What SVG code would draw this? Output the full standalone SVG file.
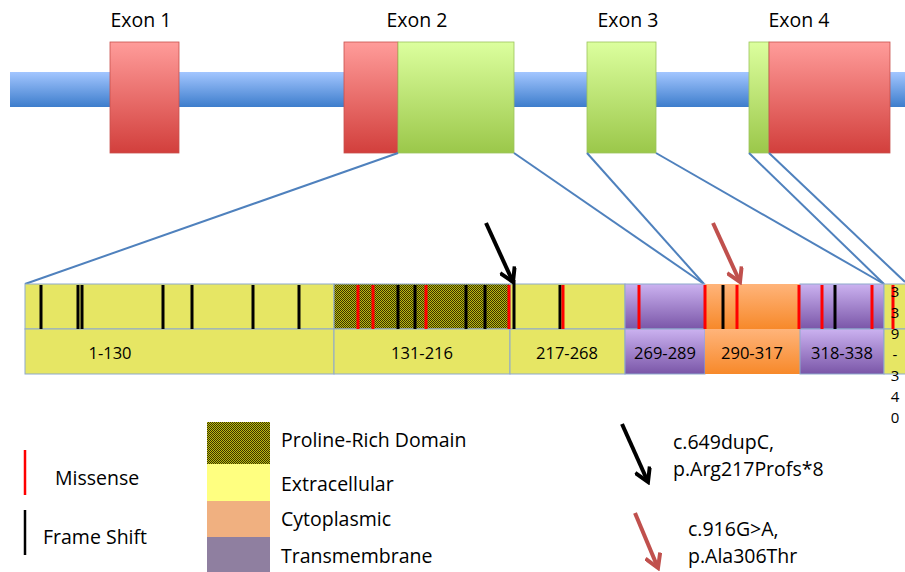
<svg xmlns="http://www.w3.org/2000/svg" width="905" height="572" viewBox="0 0 905 572">
<defs>
<linearGradient id="gBlue" x1="0" y1="0" x2="0" y2="1"><stop offset="0" stop-color="#a3c6ff"/><stop offset="1" stop-color="#3d7dcc"/></linearGradient>
<linearGradient id="gRed" x1="0" y1="0" x2="0" y2="1"><stop offset="0" stop-color="#ff9c9a"/><stop offset="1" stop-color="#d23f3c"/></linearGradient>
<linearGradient id="gGreen" x1="0" y1="0" x2="0" y2="1"><stop offset="0" stop-color="#dcff9e"/><stop offset="1" stop-color="#9bc74a"/></linearGradient>
<linearGradient id="gPurple" x1="0" y1="0" x2="0" y2="1"><stop offset="0" stop-color="#cbb2f0"/><stop offset="1" stop-color="#7a56a8"/></linearGradient>
<linearGradient id="gOrange" x1="0" y1="0" x2="0" y2="1"><stop offset="0" stop-color="#ffb47a"/><stop offset="1" stop-color="#f7892a"/></linearGradient>
<pattern id="pPro" width="2" height="2" patternUnits="userSpaceOnUse"><rect width="2" height="2" fill="#bcba10"/><rect width="1" height="1" fill="#363400"/><rect x="1" y="1" width="1" height="1" fill="#363400"/></pattern>
<marker id="mBlack" viewBox="0 0 18 18" refX="15" refY="9" markerWidth="18" markerHeight="18" markerUnits="userSpaceOnUse" orient="auto"><path d="M1.5,1 L15,9 L1.5,17" fill="none" stroke="#000" stroke-width="4"/></marker>
<marker id="mRed" viewBox="0 0 18 18" refX="15" refY="9" markerWidth="18" markerHeight="18" markerUnits="userSpaceOnUse" orient="auto"><path d="M1.5,1 L15,9 L1.5,17" fill="none" stroke="#c0504d" stroke-width="4"/></marker>
</defs>
<style>
text{font-family:"Open Sans","Liberation Sans",sans-serif;fill:#000}
.exlbl{font-size:19.5px;text-anchor:middle}
.seglbl{font-size:16.5px;text-anchor:middle}
.vlbl{font-size:15px;text-anchor:middle}
.leg{font-size:19.5px}
.red{fill:url(#gRed);stroke:#c9504d;stroke-width:0.8}
.green{fill:url(#gGreen);stroke:#9cc45c;stroke-width:0.8}
.seg{stroke:#8ea9cc;stroke-width:1}
.yel{fill:#e6e664}
.ms{stroke:#ff0000;stroke-width:3}
.fs{stroke:#000;stroke-width:3}
.conn{stroke:#4f81bd;stroke-width:2;fill:none}
.ab{stroke:#000;stroke-width:4;fill:none;marker-end:url(#mBlack)}
.ar{stroke:#c0504d;stroke-width:4;fill:none;marker-end:url(#mRed)}
</style>
<rect width="905" height="572" fill="#fff"/>

<g id="gene">
<rect x="10" y="72" width="895" height="35" fill="url(#gBlue)"/>
</g>
<g id="exon1">
<rect class="red" x="110" y="42" width="69" height="111"/>
<text class="exlbl" x="141" y="27">Exon 1</text>
</g>
<g id="exon2">
<rect class="red" x="344" y="42" width="54" height="111"/>
<rect class="green" x="398" y="42" width="116" height="111"/>
<text class="exlbl" x="417" y="27">Exon 2</text>
</g>
<g id="exon3">
<rect class="green" x="587" y="42" width="69" height="111"/>
<text class="exlbl" x="628" y="27">Exon 3</text>
</g>
<g id="exon4">
<rect class="green" x="749" y="42" width="20" height="111"/>
<rect class="red" x="769" y="42" width="121" height="111"/>
<text class="exlbl" x="799" y="27">Exon 4</text>
</g>

<g id="connectors">
<line class="conn" x1="398" y1="153" x2="25" y2="284"/>
<line class="conn" x1="514" y1="153" x2="704" y2="284"/>
<line class="conn" x1="587" y1="153" x2="704" y2="284"/>
<line class="conn" x1="656" y1="153" x2="884" y2="284"/>
<line class="conn" x1="749" y1="153" x2="884" y2="284"/>
<line class="conn" x1="769" y1="153" x2="905" y2="282"/>
</g>

<g id="seg-1-130">
<rect class="seg yel" x="25" y="284" width="309" height="45"/>
<rect class="seg yel" x="25" y="329" width="309" height="45"/>
<text class="seglbl" x="110" y="359">1-130</text>
</g>
<g id="seg-131-216">
<rect class="seg" x="334" y="284" width="176" height="45" fill="url(#pPro)"/>
<rect class="seg yel" x="334" y="329" width="176" height="45"/>
<text class="seglbl" x="422" y="359">131-216</text>
</g>
<g id="seg-217-268">
<rect class="seg yel" x="510" y="284" width="115" height="45"/>
<rect class="seg yel" x="510" y="329" width="115" height="45"/>
<text class="seglbl" x="567" y="359">217-268</text>
</g>
<g id="seg-269-289">
<rect class="seg" x="625" y="284" width="80" height="45" fill="url(#gPurple)"/>
<rect class="seg" x="625" y="329" width="80" height="45" fill="url(#gPurple)"/>
<text class="seglbl" x="665" y="359">269-289</text>
</g>
<g id="seg-290-317">
<rect x="705" y="284" width="95" height="45" fill="url(#gOrange)"/>
<rect x="705" y="329" width="95" height="45" fill="url(#gOrange)"/>
<text class="seglbl" x="752" y="359">290-317</text>
</g>
<g id="seg-318-338">
<rect class="seg" x="800" y="284" width="84" height="45" fill="url(#gPurple)"/>
<rect class="seg" x="800" y="329" width="84" height="45" fill="url(#gPurple)"/>
<text class="seglbl" x="842" y="359">318-338</text>
</g>
<g id="seg-339-340">
<rect class="seg yel" x="884" y="284" width="25" height="45"/>
<rect class="seg yel" x="884" y="329" width="25" height="45"/>
</g>

<g id="mutations">
<line class="fs" x1="41" y1="285" x2="41" y2="329"/>
<line class="fs" x1="78" y1="285" x2="78" y2="329"/>
<line class="fs" x1="82" y1="285" x2="82" y2="329"/>
<line class="fs" x1="163" y1="285" x2="163" y2="329"/>
<line class="fs" x1="192" y1="285" x2="192" y2="329"/>
<line class="fs" x1="253" y1="285" x2="253" y2="329"/>
<line class="fs" x1="299" y1="285" x2="299" y2="329"/>
<line class="ms" x1="358" y1="285" x2="358" y2="329"/>
<line class="ms" x1="373" y1="285" x2="373" y2="329"/>
<line class="fs" x1="398" y1="285" x2="398" y2="329"/>
<line class="fs" x1="415" y1="285" x2="415" y2="329"/>
<line class="ms" x1="426" y1="285" x2="426" y2="329"/>
<line class="fs" x1="466" y1="285" x2="466" y2="329"/>
<line class="fs" x1="485" y1="285" x2="485" y2="329"/>
<line class="ms" x1="509" y1="285" x2="509" y2="329"/>
<line class="fs" x1="514" y1="280" x2="514" y2="329"/>
<line class="fs" x1="560" y1="285" x2="560" y2="329"/>
<line class="ms" x1="563" y1="285" x2="563" y2="329"/>
<line class="ms" x1="639" y1="285" x2="639" y2="329"/>
<line class="ms" x1="705" y1="285" x2="705" y2="329"/>
<line class="fs" x1="723" y1="285" x2="723" y2="329"/>
<line class="ms" x1="737" y1="285" x2="737" y2="329"/>
<line class="ms" x1="799" y1="285" x2="799" y2="329"/>
<line class="ms" x1="822" y1="285" x2="822" y2="329"/>
<line class="fs" x1="835" y1="285" x2="835" y2="329"/>
<line class="ms" x1="872" y1="285" x2="872" y2="329"/>
<line class="ms" x1="893" y1="285" x2="893" y2="329"/>
</g>

<g id="label-339-340" class="vlbl">
<text x="895" y="297">3</text>
<text x="895" y="318">3</text>
<text x="895" y="339">9</text>
<text x="895" y="360">-</text>
<text x="895" y="381">3</text>
<text x="895" y="402">4</text>
<text x="895" y="423">0</text>
</g>

<g id="arrows">
<line class="ab" x1="486" y1="223" x2="513" y2="282"/>
<line class="ar" x1="713" y1="223" x2="740" y2="282"/>
</g>

<g id="legend-mutation">
<line x1="25" y1="450" x2="25" y2="495" stroke="#ff0000" stroke-width="2.5"/>
<text class="leg" x="55" y="485">Missense</text>
<line x1="25" y1="510" x2="25" y2="555" stroke="#000" stroke-width="2.5"/>
<text class="leg" x="43" y="544">Frame Shift</text>
</g>

<g id="legend-domain">
<rect x="207" y="422" width="63" height="42" fill="url(#pPro)"/>
<text class="leg" x="281" y="447">Proline-Rich Domain</text>
<rect x="207" y="464" width="63" height="37" fill="#ffff80"/>
<text class="leg" x="281" y="491">Extracellular</text>
<rect x="207" y="501" width="63" height="36" fill="#f0b080"/>
<text class="leg" x="281" y="526">Cytoplasmic</text>
<rect x="207" y="537" width="63" height="35" fill="#8f7fa0"/>
<text class="leg" x="281" y="563">Transmembrane</text>
</g>

<g id="legend-variants">
<line class="ab" x1="622" y1="424" x2="648" y2="482"/>
<text class="leg" x="673" y="449">c.649dupC,</text>
<text class="leg" x="673" y="476">p.Arg217Profs*8</text>
<line class="ar" x1="635" y1="513" x2="658" y2="568"/>
<text class="leg" x="688" y="536">c.916G&gt;A,</text>
<text class="leg" x="688" y="563">p.Ala306Thr</text>
</g>
</svg>
